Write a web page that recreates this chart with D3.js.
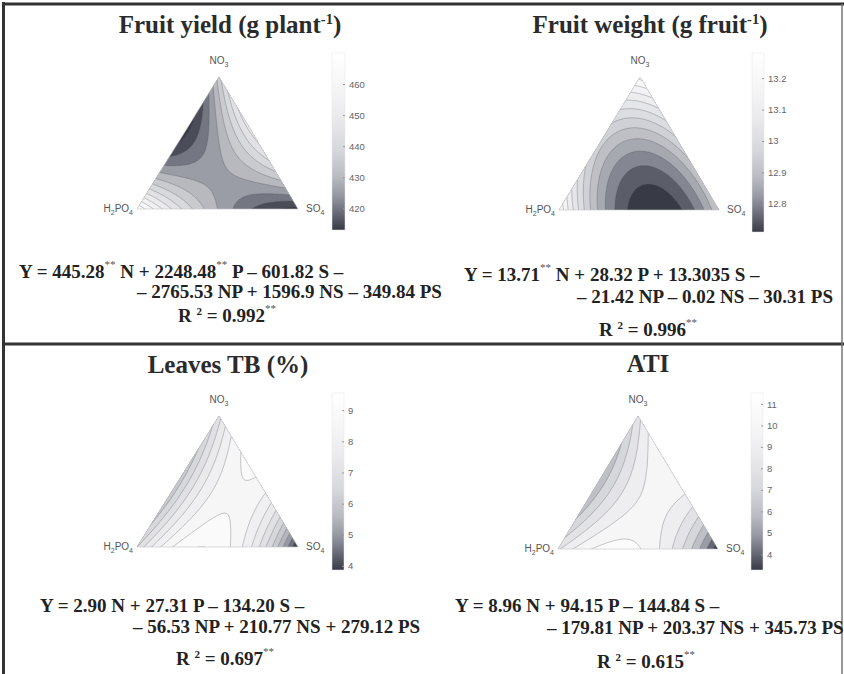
<!DOCTYPE html>
<html>
<head>
<meta charset="utf-8">
<script src="https://cdn.jsdelivr.net/npm/d3@7"></script>
<style>
  body { margin: 0; background: #fff; }
  svg { display: block; }
</style>
</head>
<body>
<svg id="fig" width="844" height="674"></svg>
<script>
// values: [NO3 corner, H2PO4 corner, SO4 corner]
const vertexValues = [
  [438, 470, 413],
  [13.27, 13.25, 12.95],
  [7.3, 7.0, 3.9],
  [8.6, 8.8, 3.3]
];
// midpoints of the edges: [NO3-H2PO4, NO3-SO4, H2PO4-SO4]
const edgeMidValues = [
  [415, 450, 430],
  [12.97, 12.98, 12.72],
  [6.2, 8.9, 9.35],
  [6.2, 10.6, 11.1]
];
const colorRanges = [[413, 470], [12.71, 13.28], [3.87, 9.55], [3.27, 11.51]];
const colorTicks = [
  [420, 430, 440, 450, 460],
  [12.8, 12.9, 13, 13.1, 13.2],
  [4, 5, 6, 7, 8, 9],
  [4, 5, 6, 7, 8, 9, 10, 11]
];
const contourStep = [5, 0.05, 0.5, 1];

const titles = [
  [["Fruit yield (g plant"], ["-1", 3], [")"]],
  [["Fruit weight (g fruit"], ["-1", 3], [")"]],
  [["Leaves TB (%)"]],
  [["ATI"]]
];
const equations = [
  [
    [["Y = 445.28"], ["**", 1], [" N + 2248.48"], ["**", 1], ["  P \u2013 601.82 S \u2013"]],
    [["\u2013 2765.53 NP + 1596.9 NS \u2013 349.84 PS"]],
    [["R "], ["2", 3], [" = 0.992"], ["**", 1]]
  ],
  [
    [["Y = 13.71"], ["**", 1], ["  N + 28.32 P + 13.3035 S \u2013"]],
    [["\u2013 21.42 NP \u2013 0.02 NS \u2013 30.31 PS"]],
    [["R "], ["2", 3], [" = 0.996"], ["**", 1]]
  ],
  [
    [["Y = 2.90 N + 27.31 P \u2013 134.20 S \u2013"]],
    [["\u2013 56.53 NP + 210.77 NS + 279.12 PS"]],
    [["R "], ["2", 3], [" = 0.697"], ["**", 1]]
  ],
  [
    [["Y = 8.96 N + 94.15 P \u2013 144.84 S \u2013"]],
    [["\u2013 179.81 NP + 203.37 NS + 345.73 PS"]],
    [["R "], ["2", 3], [" = 0.615"], ["**", 1]]
  ]
];
const cornerLabels = [[["NO"], ["3", 2]], [["H"], ["2", 2], ["PO"], ["4", 2]], [["SO"], ["4", 2]]];

// where things sit on the page
const layout = [
  { tri: [[219, 77], [137, 209], [298, 209]], cb: [332, 53, 13, 177], title: [230, 33], eq: [[19, 278], [137, 298], [178, 322]] },
  { tri: [[640, 77], [559, 210], [719, 210]], cb: [752, 53, 12, 179], title: [650, 33], eq: [[464, 281], [577, 303], [599, 336]] },
  { tri: [[219, 416], [137, 547], [298, 547]], cb: [332, 393, 12, 177], title: [228, 373], eq: [[40, 612], [133, 633], [176, 665]] },
  { tri: [[638, 416], [558, 549], [718, 549]], cb: [751, 393, 12, 177], title: [648, 372], eq: [[455, 612], [547, 634], [597, 668]] }
];

const svg = d3.select("#fig");
const grayMap = d3.scaleLinear()
  .domain([0, 0.1, 0.2, 0.3, 0.45, 0.65, 0.85, 1])
  .range(["#383b46", "#6a6d78", "#979aa3", "#b8bac0", "#d6d7db", "#ebebee", "#f8f8f9", "#ffffff"])
  .interpolate(d3.interpolateRgb).clamp(true);

function rich(g, x, y, segs, size, opts) {
  const t = g.append("text").attr("x", x).attr("y", y)
    .attr("font-family", opts.family).attr("font-size", size)
    .attr("font-weight", opts.weight).attr("fill", opts.fill)
    .attr("text-anchor", opts.anchor || "start");
  let shift = 0;
  segs.forEach(s => {
    const sp = t.append("tspan").text(s[0]);
    let want = 0, fs = size;
    if (s[1] === 1) { want = -size * 0.55; fs = size * 0.58; }   // significance stars
    if (s[1] === 2) { want = size * 0.3; fs = size * 0.7; }      // subscript
    if (s[1] === 3) { want = -size * 0.36; fs = size * 0.58; }   // exponent
    sp.attr("font-size", fs).attr("dy", want - shift);
    if (s[1] === 1 && opts.supFill) sp.attr("fill", opts.supFill).attr("font-weight", "normal");
    shift = want;
  });
  return t;
}

// frame
svg.append("line").attr("x1", 2).attr("x2", 844).attr("y1", 4).attr("y2", 4).attr("stroke", "#333").attr("stroke-width", 3);
svg.append("line").attr("x1", 3.5).attr("x2", 3.5).attr("y1", 2).attr("y2", 674).attr("stroke", "#333").attr("stroke-width", 3);
svg.append("line").attr("x1", 2).attr("x2", 844).attr("y1", 344).attr("y2", 344).attr("stroke", "#333").attr("stroke-width", 3);
svg.append("line").attr("x1", 842).attr("x2", 842).attr("y1", 4).attr("y2", 674).attr("stroke", "#777").attr("stroke-width", 1.5);

layout.forEach((L, k) => {
  const g = svg.append("g");
  const [A, B, C] = L.tri; // NO3, H2PO4, SO4
  const [vN, vP, vS] = vertexValues[k];
  const [mNP, mNS, mPS] = edgeMidValues[k];
  // quadratic mixture surface through the corner and mid-edge readings
  const dNP = 4 * mNP - 2 * (vN + vP), dNS = 4 * mNS - 2 * (vN + vS), dPS = 4 * mPS - 2 * (vP + vS);
  const den = (B[1] - C[1]) * (A[0] - C[0]) + (C[0] - B[0]) * (A[1] - C[1]);
  const surf = (x, y) => {
    const n = ((B[1] - C[1]) * (x - C[0]) + (C[0] - B[0]) * (y - C[1])) / den;
    const p = ((C[1] - A[1]) * (x - C[0]) + (A[0] - C[0]) * (y - C[1])) / den;
    const s = 1 - n - p;
    return vN * n + vP * p + vS * s + dNP * n * p + dNS * n * s + dPS * p * s;
  };

  const x0 = B[0] - 2, x1 = C[0] + 2, y0 = A[1] - 2, y1 = B[1] + 2;
  const nx = 240, ny = 200;
  const gx = d3.scaleLinear().domain([0, nx]).range([x0, x1]);
  const gy = d3.scaleLinear().domain([0, ny]).range([y0, y1]);
  const values = new Array(nx * ny);
  for (let j = 0; j < ny; j++)
    for (let i = 0; i < nx; i++)
      values[j * nx + i] = surf(gx(i + 0.5), gy(j + 0.5));

  const [lo, hi] = colorRanges[k];
  const color = d3.scaleLinear().domain([lo, hi]).range([0, 1]);
  const step = contourStep[k];
  const levels = [d3.min(values) - 1];
  for (let v = Math.ceil(lo / step - 1e-9) * step; v < hi; v += step) levels.push(+v.toFixed(4));

  const contours = d3.contours().size([nx, ny]).thresholds(levels)(values);
  const path = d3.geoPath(d3.geoTransform({
    point: function (x, y) { this.stream.point(gx(x), gy(y)); }
  }));

  const clipId = "tri" + k;
  g.append("clipPath").attr("id", clipId).append("path")
    .attr("d", d3.line()(L.tri) + "Z");
  const cg = g.append("g").attr("clip-path", `url(#${clipId})`);
  // each band takes the colour of its lower level
  cg.selectAll("path.band").data(contours).join("path")
    .attr("class", "band")
    .attr("d", path)
    .attr("fill", (d, i) => grayMap(color(i === 0 ? lo : d.value)))
    .attr("stroke", (d, i) => i === 0 ? "none" : "#55575d")
    .attr("stroke-width", 0.5)
    .attr("stroke-opacity", 0.65);
  g.append("path").attr("d", d3.line()(L.tri) + "Z")
    .attr("fill", "none").attr("stroke", "#c4c4c8").attr("stroke-width", 0.6);

  // corner labels
  const lab = { family: "'Liberation Sans', Arial, sans-serif", weight: "normal", fill: "#555" };
  rich(g, A[0], A[1] - 13, cornerLabels[0], 10, { ...lab, anchor: "middle" });
  rich(g, B[0] - 4, B[1] + 3, cornerLabels[1], 10, { ...lab, anchor: "end" });
  rich(g, C[0] + 8, C[1] + 3, cornerLabels[2], 10, lab);

  // colorbar
  const [cx, cy, cw, ch] = L.cb;
  const gid = "cbg" + k;
  const grad = g.append("defs").append("linearGradient").attr("id", gid)
    .attr("x1", 0).attr("x2", 0).attr("y1", 1).attr("y2", 0);
  d3.range(0, 1.0001, 0.05).forEach(t => {
    grad.append("stop").attr("offset", t).attr("stop-color", grayMap(t));
  });
  g.append("rect").attr("x", cx).attr("y", cy).attr("width", cw).attr("height", ch)
    .attr("fill", `url(#${gid})`).attr("stroke", "#e6e6e8").attr("stroke-width", 0.5);
  const cbScale = d3.scaleLinear().domain([lo, hi]).range([cy + ch, cy]);
  const axis = d3.axisRight(cbScale).tickValues(colorTicks[k]).tickSize(-2).tickPadding(4)
    .tickFormat(d3.format("~g"));
  const ag = g.append("g").attr("transform", `translate(${cx + cw},0)`).call(axis);
  ag.select(".domain").remove();
  ag.selectAll("line").attr("stroke", "#999");
  ag.selectAll("text").attr("font-family", "'Liberation Sans', Arial, sans-serif")
    .attr("font-size", 9.5).attr("fill", "#666");

  // title
  rich(g, L.title[0], L.title[1], titles[k], 25,
    { family: "'Liberation Serif', 'Times New Roman', serif", weight: "bold", fill: "#2b2b2b", anchor: "middle" });

  // fitted equation
  equations[k].forEach((line, li) => {
    rich(g, L.eq[li][0], L.eq[li][1], line, 19,
      { family: "'Liberation Serif', 'Times New Roman', serif", weight: "bold", fill: "#222", supFill: "#555" });
  });
});
</script>
</body>
</html>
